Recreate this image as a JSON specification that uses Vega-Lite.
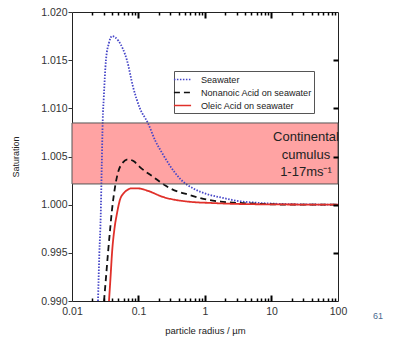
{
  "$schema": "https://vega.github.io/schema/vega-lite/v6.json",
  "width": 266,
  "height": 289,
  "autosize": {"type": "none"},
  "padding": {"left": 72, "top": 12, "right": 62, "bottom": 38},
  "background": "white",
  "config": {
    "view": {"stroke": "#222", "strokeWidth": 1},
    "axis": {
      "labelFont": "Liberation Sans",
      "titleFont": "Liberation Sans",
      "labelColor": "#333",
      "titleColor": "#222",
      "titleFontWeight": "normal",
      "domain": false,
      "grid": false,
      "tickColor": "#333",
      "labelFlush": false,
      "labelOverlap": false,
      "zindex": 1
    }
  },
  "datasets": {
    "band": [{"x0": 0.01, "x1": 100, "y0": 1.00215, "y1": 1.00848}],
    "curves": [
      {"series": "Seawater", "r": 0.0246, "s": 0.990},
      {"series": "Seawater", "r": 0.0258, "s": 0.995},
      {"series": "Seawater", "r": 0.0270, "s": 0.9987},
      {"series": "Seawater", "r": 0.0280, "s": 1.004},
      {"series": "Seawater", "r": 0.0290, "s": 1.0088},
      {"series": "Seawater", "r": 0.0300, "s": 1.011},
      {"series": "Seawater", "r": 0.0324, "s": 1.015},
      {"series": "Seawater", "r": 0.036, "s": 1.0168},
      {"series": "Seawater", "r": 0.040, "s": 1.0175},
      {"series": "Seawater", "r": 0.044, "s": 1.0174},
      {"series": "Seawater", "r": 0.050, "s": 1.0170},
      {"series": "Seawater", "r": 0.058, "s": 1.0162},
      {"series": "Seawater", "r": 0.067, "s": 1.0150},
      {"series": "Seawater", "r": 0.083, "s": 1.0122},
      {"series": "Seawater", "r": 0.105, "s": 1.0100},
      {"series": "Seawater", "r": 0.138, "s": 1.0085},
      {"series": "Seawater", "r": 0.18, "s": 1.0066},
      {"series": "Seawater", "r": 0.225, "s": 1.0054},
      {"series": "Seawater", "r": 0.30, "s": 1.0040},
      {"series": "Seawater", "r": 0.42, "s": 1.0027},
      {"series": "Seawater", "r": 0.70, "s": 1.0016},
      {"series": "Seawater", "r": 1.07, "s": 1.0011},
      {"series": "Seawater", "r": 1.86, "s": 1.0007},
      {"series": "Seawater", "r": 3.0, "s": 1.0004},
      {"series": "Seawater", "r": 6.0, "s": 1.0002},
      {"series": "Seawater", "r": 15, "s": 1.00007},
      {"series": "Seawater", "r": 40, "s": 1.00002},
      {"series": "Seawater", "r": 100, "s": 1.0},
      {"series": "Nonanoic Acid on seawater", "r": 0.0303, "s": 0.990},
      {"series": "Nonanoic Acid on seawater", "r": 0.0325, "s": 0.9925},
      {"series": "Nonanoic Acid on seawater", "r": 0.0348, "s": 0.995},
      {"series": "Nonanoic Acid on seawater", "r": 0.0375, "s": 0.9975},
      {"series": "Nonanoic Acid on seawater", "r": 0.040, "s": 0.9995},
      {"series": "Nonanoic Acid on seawater", "r": 0.0443, "s": 1.0018},
      {"series": "Nonanoic Acid on seawater", "r": 0.049, "s": 1.0033},
      {"series": "Nonanoic Acid on seawater", "r": 0.057, "s": 1.0043},
      {"series": "Nonanoic Acid on seawater", "r": 0.0695, "s": 1.0047},
      {"series": "Nonanoic Acid on seawater", "r": 0.085, "s": 1.0045},
      {"series": "Nonanoic Acid on seawater", "r": 0.105, "s": 1.0039},
      {"series": "Nonanoic Acid on seawater", "r": 0.165, "s": 1.0029},
      {"series": "Nonanoic Acid on seawater", "r": 0.297, "s": 1.0017},
      {"series": "Nonanoic Acid on seawater", "r": 0.59, "s": 1.0010},
      {"series": "Nonanoic Acid on seawater", "r": 1.11, "s": 1.0005},
      {"series": "Nonanoic Acid on seawater", "r": 1.86, "s": 1.0003},
      {"series": "Nonanoic Acid on seawater", "r": 6.0, "s": 1.0001},
      {"series": "Nonanoic Acid on seawater", "r": 20, "s": 1.0},
      {"series": "Nonanoic Acid on seawater", "r": 100, "s": 1.0},
      {"series": "Oleic Acid on seawater", "r": 0.036, "s": 0.990},
      {"series": "Oleic Acid on seawater", "r": 0.038, "s": 0.9925},
      {"series": "Oleic Acid on seawater", "r": 0.040, "s": 0.995},
      {"series": "Oleic Acid on seawater", "r": 0.0435, "s": 0.9975},
      {"series": "Oleic Acid on seawater", "r": 0.0475, "s": 0.9991},
      {"series": "Oleic Acid on seawater", "r": 0.0526, "s": 1.0005},
      {"series": "Oleic Acid on seawater", "r": 0.060, "s": 1.0012},
      {"series": "Oleic Acid on seawater", "r": 0.067, "s": 1.0015},
      {"series": "Oleic Acid on seawater", "r": 0.080, "s": 1.0017},
      {"series": "Oleic Acid on seawater", "r": 0.095, "s": 1.0017},
      {"series": "Oleic Acid on seawater", "r": 0.13, "s": 1.0015},
      {"series": "Oleic Acid on seawater", "r": 0.234, "s": 1.0008},
      {"series": "Oleic Acid on seawater", "r": 0.59, "s": 1.0003},
      {"series": "Oleic Acid on seawater", "r": 1.2, "s": 1.00018},
      {"series": "Oleic Acid on seawater", "r": 5.0, "s": 1.00005},
      {"series": "Oleic Acid on seawater", "r": 100, "s": 1.0}
    ]
  },
  "layer": [
    {
      "data": {"name": "band"},
      "mark": {"type": "rect", "fill": "#ffa3a3", "strokeWidth": 0},
      "encoding": {
        "x": {
          "field": "x0", "type": "quantitative",
          "scale": {"type": "log", "domain": [0.01, 100], "nice": false},
          "axis": {
            "orient": "bottom",
            "values": [0.01, 0.1, 1, 10, 100],
            "format": "~g",
            "ticks": false,
            "labelPadding": 5,
            "labelFontSize": 10.5,
            "title": "particle radius / µm",
            "titleFontSize": 9.5,
            "titlePadding": 9
          }
        },
        "x2": {"field": "x1"},
        "y": {
          "field": "y0", "type": "quantitative",
          "scale": {"domain": [0.99, 1.02], "zero": false, "nice": false},
          "axis": {
            "orient": "left",
            "values": [0.99, 0.995, 1.0, 1.005, 1.01, 1.015, 1.02],
            "format": ".3f",
            "ticks": true,
            "tickSize": 4,
            "labelPadding": 1,
            "labelFontSize": 10.5,
            "title": "Saturation",
            "titleFontSize": 9,
            "titlePadding": 20
          }
        },
        "y2": {"field": "y1"}
      }
    },
    {
      "data": {"name": "curves"},
      "mark": {"type": "line", "interpolate": "monotone", "clip": true, "strokeWidth": 1.8},
      "encoding": {
        "x": {
          "field": "r", "type": "quantitative",
          "axis": {"orient": "bottom", "offset": -6, "values": [0.1, 1, 10], "labels": false, "ticks": true, "tickSize": 6, "tickWidth": 2, "tickColor": "black", "tickOpacity": 1, "title": null, "zindex": 2}
        },
        "y": {
          "field": "s", "type": "quantitative",
          "axis": {"orient": "right", "offset": -5, "values": [0.995, 1.0, 1.005, 1.01, 1.015], "labels": false, "ticks": true, "tickSize": 5, "tickWidth": 2, "tickColor": "black", "tickOpacity": 1, "title": null, "zindex": 2}
        },
        "color": {
          "field": "series", "type": "nominal",
          "scale": {"domain": ["Seawater", "Nonanoic Acid on seawater", "Oleic Acid on seawater"], "range": ["#4646c8", "#111111", "#e0302a"]},
          "legend": {
            "orient": "none", "legendX": 102, "legendY": 59,
            "title": null,
            "fillColor": "white", "strokeColor": "#555", "padding": 2,
            "labelFont": "Liberation Sans", "labelFontSize": 9.1, "labelColor": "#222",
            "symbolType": "M-1.6,0L1.6,0", "symbolSize": 115, "symbolStrokeWidth": 1.6,
            "labelOffset": 12, "rowPadding": 1
          }
        },
        "strokeDash": {
          "field": "series", "type": "nominal",
          "scale": {"domain": ["Seawater", "Nonanoic Acid on seawater", "Oleic Acid on seawater"], "range": [[1.5, 1.5], [6, 4], [1, 0]]},
          "legend": {
            "orient": "none", "legendX": 102, "legendY": 59,
            "title": null,
            "fillColor": "white", "strokeColor": "#555", "padding": 2,
            "labelFont": "Liberation Sans", "labelFontSize": 9.1, "labelColor": "#222",
            "symbolType": "M-1.6,0L1.6,0", "symbolSize": 115, "symbolStrokeWidth": 1.6,
            "labelOffset": 12, "rowPadding": 1
          }
        }
      }
    },
    {
      "data": {"name": "band"},
      "mark": {"type": "rect", "fillOpacity": 0, "stroke": "#555", "strokeWidth": 1},
      "encoding": {
        "x": {
          "field": "x0", "type": "quantitative",
          "axis": {"orient": "top", "offset": -3, "values": [0.02, 0.03, 0.04, 0.05, 0.06, 0.07, 0.08, 0.09, 0.2, 0.3, 0.4, 0.5, 0.6, 0.7, 0.8, 0.9, 2, 3, 4, 5, 6, 7, 8, 9, 20, 30, 40, 50, 60, 70, 80, 90], "labels": false, "ticks": true, "tickSize": 3, "tickWidth": 1.5, "tickColor": "black", "tickOpacity": 1, "title": null, "zindex": 2}
        },
        "x2": {"field": "x1"},
        "y": {"field": "y0", "type": "quantitative", "axis": null},
        "y2": {"field": "y1"}
      }
    },
    {
      "data": {"values": [{}]},
      "mark": {"type": "text", "text": ["Continental", "cumulus", "1-17ms⁻¹"], "align": "center", "baseline": "middle", "lineHeight": 17.5, "font": "Liberation Sans", "fontSize": 13, "color": "#222"},
      "encoding": {
        "x": {
          "datum": 33, "type": "quantitative",
          "axis": {"orient": "bottom", "offset": -3, "values": [0.02, 0.03, 0.04, 0.05, 0.06, 0.07, 0.08, 0.09, 0.2, 0.3, 0.4, 0.5, 0.6, 0.7, 0.8, 0.9, 2, 3, 4, 5, 6, 7, 8, 9, 20, 30, 40, 50, 60, 70, 80, 90], "labels": false, "ticks": true, "tickSize": 3, "tickWidth": 1.5, "tickColor": "black", "tickOpacity": 1, "title": null, "zindex": 2}
        },
        "y": {"datum": 1.00702, "type": "quantitative", "axis": null}
      }
    },
    {
      "data": {"values": [{}]},
      "mark": {"type": "text", "text": "61", "align": "center", "baseline": "middle", "dx": 40, "dy": 15, "font": "Liberation Sans", "fontSize": 9, "color": "#4a6a90", "clip": false},
      "encoding": {
        "x": {
          "datum": 100, "type": "quantitative",
          "axis": {"orient": "top", "offset": -6, "values": [0.1, 1, 10], "labels": false, "ticks": true, "tickSize": 6, "tickWidth": 2, "tickColor": "black", "tickOpacity": 1, "title": null, "zindex": 2}
        },
        "y": {"datum": 0.99, "type": "quantitative", "axis": null}
      }
    }
  ],
  "resolve": {"axis": {"x": "independent", "y": "independent"}, "scale": {"x": "shared", "y": "shared"}}
}
